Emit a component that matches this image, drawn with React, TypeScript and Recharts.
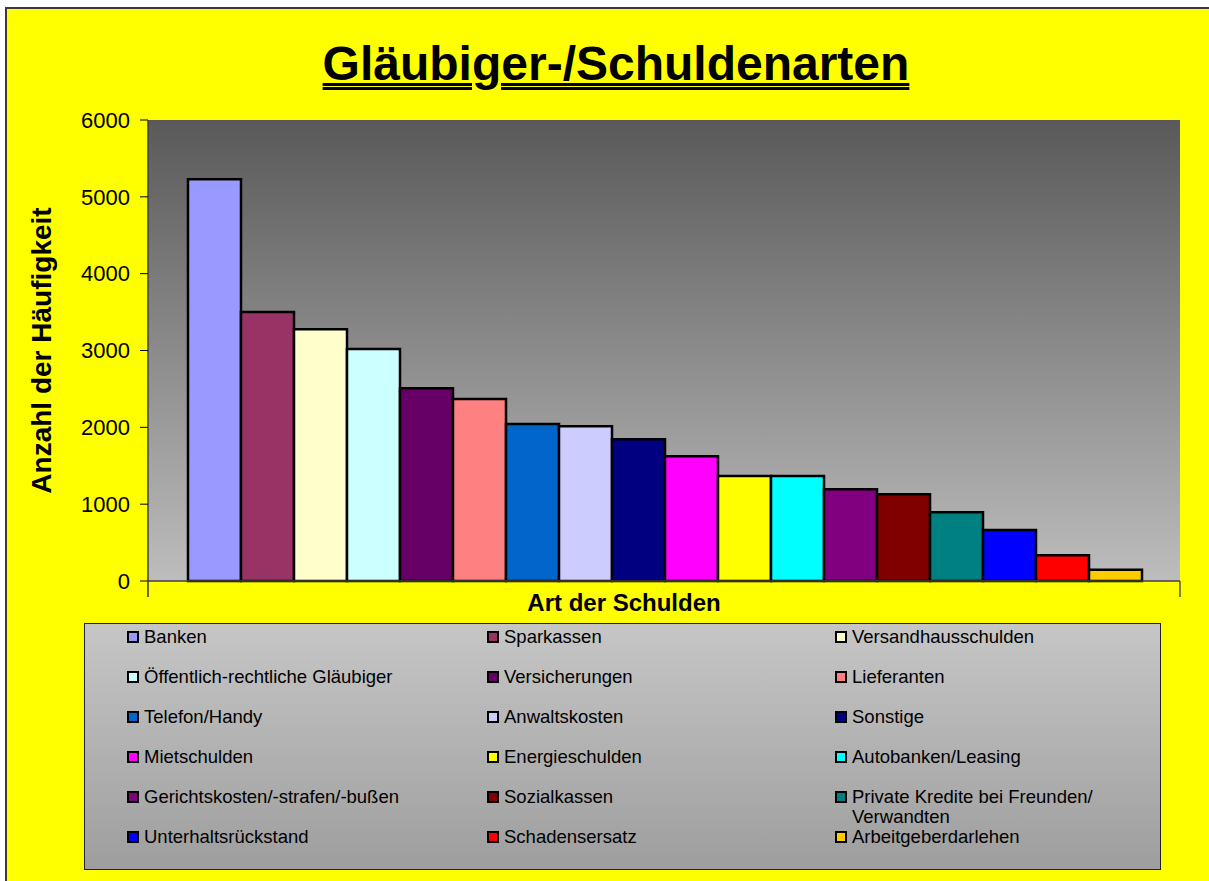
import React from 'react';
import {
  BarChart,
  Bar,
  XAxis,
  YAxis,
  CartesianGrid,
  Legend,
} from 'recharts';

// Gläubiger-/Schuldenarten: one bar per creditor type
const creditorNames = [
  'Banken',
  'Sparkassen',
  'Versandhausschulden',
  'Öffentlich-rechtliche Gläubiger',
  'Versicherungen',
  'Lieferanten',
  'Telefon/Handy',
  'Anwaltskosten',
  'Sonstige',
  'Mietschulden',
  'Energieschulden',
  'Autobanken/Leasing',
  'Gerichtskosten/-strafen/-bußen',
  'Sozialkassen',
  'Private Kredite bei Freunden/ Verwandten',
  'Unterhaltsrückstand',
  'Schadensersatz',
  'Arbeitgeberdarlehen',
];

const creditorCounts = [
  5230, 3500, 3275, 3020, 2510, 2370, 2045, 2015, 1845, 1625, 1365, 1365, 1195, 1130, 895, 665, 335, 145,
];

const creditorColors = [
  '#9999FF', '#993366', '#FFFFCC', '#CCFFFF', '#660066', '#FF8080',
  '#0066CC', '#CCCCFF', '#000080', '#FF00FF', '#FFFF00', '#00FFFF',
  '#800080', '#800000', '#008080', '#0000FF', '#FF0000', '#FFCC00',
];

const yTicks = [0, 1000, 2000, 3000, 4000, 5000, 6000];
const gridValues = [1000, 2000, 3000, 4000, 5000];

const chartRow: Record<string, string | number> = { category: 'Schulden' };
creditorCounts.forEach((v, i) => {
  chartRow[`s${i}`] = v;
});
const data = [chartRow];

const FONT = 'Arial, "Liberation Sans", sans-serif';
const PLOT_LEFT = 148;
const PLOT_RIGHT = 1180;
const PLOT_TOP = 120;
const PLOT_BOTTOM = 581;
const X_AXIS_H = 40;

const BoundaryTicks = (props: any) => {
  const { x, y } = props;
  const half = (PLOT_RIGHT - PLOT_LEFT) / 2;
  return (
    <g>
      <line x1={x - half} x2={x - half} y1={y} y2={y + 16} stroke="#333" strokeWidth={1.5} />
      <line x1={x + half} x2={x + half} y1={y} y2={y + 16} stroke="#555" strokeWidth={1.5} />
    </g>
  );
};

const renderLegend = (props: any) => {
  // keep the series order, not alphabetical
  const payload = [...(props.payload || [])].sort(
    (a: any, b: any) => creditorNames.indexOf(a.value) - creditorNames.indexOf(b.value)
  );
  return (
    <div
      style={{
        width: 1077,
        height: 247,
        boxSizing: 'border-box',
        border: '1px solid #222',
        background: 'linear-gradient(#c6c6c6, #9e9e9e)',
        display: 'grid',
        gridTemplateColumns: '360px 348px 300px',
        gridAutoRows: '40px',
        paddingTop: 3,
        paddingLeft: 42,
        fontFamily: FONT,
        fontSize: 18.5,
        color: '#000',
      }}
    >
      {payload.map((entry: any, i: number) => (
        <div key={i} style={{ display: 'flex', alignItems: 'flex-start', lineHeight: '20px' }}>
          <span
            style={{
              display: 'inline-block',
              flex: '0 0 auto',
              width: 12,
              height: 12,
              boxSizing: 'border-box',
              border: '2px solid #000',
              background: entry.color,
              marginTop: 4,
              marginRight: 5,
            }}
          />
          <span>{entry.value}</span>
        </div>
      ))}
    </div>
  );
};

export default function App() {
  return (
    <div style={{ position: 'absolute', left: 0, top: 0, width: 1209, height: 881, background: '#fff', overflow: 'hidden' }}>
      <div
        style={{
          position: 'absolute',
          left: 5,
          top: 7,
          width: 1204,
          height: 874,
          background: '#FFFF00',
          borderLeft: '2px solid #3a3a3a',
          borderTop: '2px solid #3a3a3a',
          boxSizing: 'border-box',
        }}
      />
      <div
        style={{
          position: 'absolute',
          left: 0,
          top: 40,
          width: 1232,
          textAlign: 'center',
          fontFamily: FONT,
          fontWeight: 'bold',
          fontSize: 48,
          lineHeight: '48px',
          color: '#000',
          textDecorationLine: 'underline',
          textDecorationStyle: 'double',
          textDecorationThickness: '3px',
          textUnderlineOffset: '3px',
        }}
      >
        Gläubiger-/Schuldenarten
      </div>
      <div style={{ position: 'absolute', left: 0, top: 0 }}>
        <BarChart
          width={1209}
          height={881}
          data={data}
          margin={{ top: PLOT_TOP, right: 1209 - PLOT_RIGHT, left: 0, bottom: 881 - PLOT_BOTTOM - X_AXIS_H }}
          barCategoryGap={40}
          barGap={0}
        >
          <defs>
            <linearGradient id="plotFill" x1="0" y1="0" x2="0" y2="1">
              <stop offset="0%" stopColor="#595959" />
              <stop offset="100%" stopColor="#bdbdbd" />
            </linearGradient>
          </defs>
          <CartesianGrid
            vertical={false}
            fill="url(#plotFill)"
            fillOpacity={1}
            stroke="#000"
            strokeWidth={1}
            horizontalCoordinatesGenerator={(args: any) => {
              const scale = args && args.yAxis && args.yAxis.scale;
              if (typeof scale !== 'function') return [];
              return gridValues.map((v) => scale(v));
            }}
          />
          <XAxis
            xAxisId="top"
            orientation="top"
            dataKey="category"
            height={0}
            tick={false}
            tickLine={false}
            axisLine={{ stroke: '#8a8a8a', strokeWidth: 1.5 }}
          />
          <XAxis
            dataKey="category"
            height={X_AXIS_H}
            tickLine={false}
            tickSize={0}
            tickMargin={0}
            tick={<BoundaryTicks />}
            axisLine={{ stroke: '#404040', strokeWidth: 1.5 }}
            label={{
              content: (p: any) => {
                const vb = p.viewBox || {};
                return (
                  <text
                    x={vb.x + vb.width / 2 - 40}
                    y={vb.y + 30}
                    textAnchor="middle"
                    fontFamily={FONT}
                    fontWeight="bold"
                    fontSize={24}
                    fill="#000"
                  >
                    Art der Schulden
                  </text>
                );
              },
            }}
          />
          <YAxis
            domain={[0, 6000]}
            ticks={yTicks}
            interval={0}
            width={PLOT_LEFT}
            tickSize={8}
            tickMargin={10}
            tickLine={{ stroke: '#000', strokeWidth: 1 }}
            axisLine={{ stroke: '#404040', strokeWidth: 1.5 }}
            tick={{ fill: '#000', fontSize: 22, fontFamily: FONT }}
            label={{
              content: (p: any) => {
                const vb = p.viewBox || {};
                const cy = vb.y + vb.height / 2;
                return (
                  <text
                    x={41}
                    y={cy}
                    transform={`rotate(-90, 41, ${cy})`}
                    textAnchor="middle"
                    dominantBaseline="central"
                    fontFamily={FONT}
                    fontWeight="bold"
                    fontSize={28}
                    fill="#000"
                  >
                    Anzahl der Häufigkeit
                  </text>
                );
              },
            }}
          />
          <YAxis
            yAxisId="right"
            orientation="right"
            width={0}
            domain={[0, 6000]}
            tick={false}
            tickLine={false}
            axisLine={{ stroke: '#8a8a8a', strokeWidth: 1.5 }}
          />
          <Legend
            layout="horizontal"
            verticalAlign="middle"
            align="center"
            content={renderLegend}
            wrapperStyle={{ position: 'absolute', left: 84, top: 623, width: 1077, height: 247 }}
          />
          {creditorNames.map((name, i) => (
            <Bar
              key={name}
              dataKey={`s${i}`}
              name={name}
              fill={creditorColors[i]}
              stroke="#000"
              strokeWidth={2.5}
              isAnimationActive={false}
            />
          ))}
        </BarChart>
      </div>
    </div>
  );
}
